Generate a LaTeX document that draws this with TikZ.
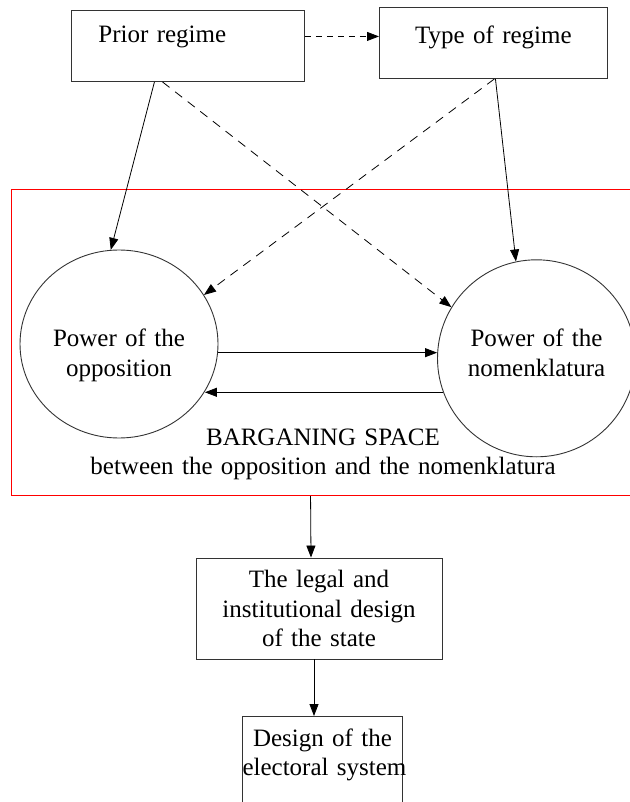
\documentclass[tikz,border=0pt]{standalone}
\usepackage{fontspec}
\setmainfont{Liberation Serif}
\usetikzlibrary{arrows.meta,shapes.geometric,calc}

\begin{document}
\begin{tikzpicture}[
  x=1pt,y=-1pt,
  txt/.style={font=\fontsize{25}{29.5}\selectfont},
  box/.style={draw=black!80, line width=0.9pt, txt, inner sep=0pt},
  pow/.style={ellipse, draw=black!80, line width=0.9pt, txt, inner sep=0pt, text width=140pt, align=center},
  spaceframe/.style={rectangle, draw, color=red, line width=1.1pt, inner sep=0pt},
  arr/.style={-{Triangle[length=12pt,width=9pt]}, line width=0.8pt},
  darr/.style={arr, dash pattern=on 9pt off 7pt}
]
\useasboundingbox (0,0) rectangle (629,802);
\node[spaceframe, anchor=north west, minimum width=634pt, minimum height=306pt] (space) at (11,189) {};
\node[box, anchor=north west, text width=179pt, inner xsep=27pt, align=left, text height=32pt, text depth=39pt] (prior) at (71,10) {Prior regime};
\node[box, anchor=north west, text width=228pt, align=center, text height=36pt, text depth=35pt] (type) at (379,7) {Type of regime};
\node[pow, minimum width=194pt, minimum height=188pt, text height=40pt, text depth=35pt] (opp) at (119,344) {Power of the\\opposition};
\node[pow, minimum width=197pt, minimum height=197pt, text height=17pt, text depth=40pt] (nom) at (536.5,358.3) {Power of the\\nomenklatura};
\node[txt, anchor=base, text width=470pt, align=center] (bspace) at (323,445) {BARGANING SPACE\\between the opposition and the nomenklatura};
\node[box, text width=230pt, align=center, minimum width=246pt, minimum height=101pt] (legal) at (319,608.5) {The legal and\\institutional design\\of the state};
\node[box, anchor=north, text width=160pt, align=center, text height=30pt, text depth=100pt] (design) at (322.5,716) {Design of the\\\mbox{electoral system}};
\draw[darr, dash pattern=on 6pt off 5pt] ([yshift=9.5pt]prior.east) -- ([yshift=6.5pt]type.west);
\draw[arr] ([xshift=-33.5pt]prior.south) -- (opp.95);
\draw[darr] ([xshift=-25.5pt]prior.south) -- (nom.149);
\draw[darr] ([xshift=1pt]type.south) -- (opp.30);
\draw[arr] ([xshift=2pt]type.south) -- (nom.102);
\draw[arr] (opp.-5) -- (opp.-5 -| nom.west);
\draw[arr] (nom.200) -- (nom.200 -| opp.-29);
\draw[arr] ([xshift=-18pt]space.south) -- ([xshift=-8pt]legal.north);
\draw[arr] ([xshift=-5pt]legal.south) -- ([xshift=-8.5pt]design.north);
\end{tikzpicture}
\end{document}
